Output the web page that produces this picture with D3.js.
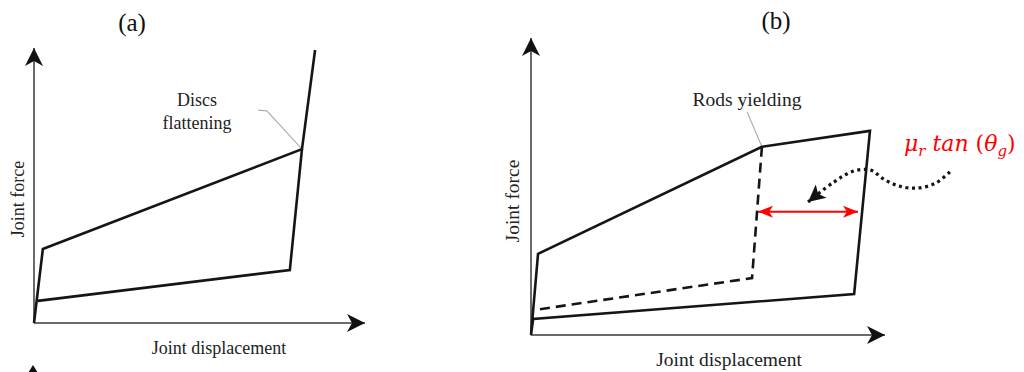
<!DOCTYPE html>
<html>
<head>
<meta charset="utf-8">
<script src="https://cdn.jsdelivr.net/npm/d3@7"></script>
<style>
  html, body { margin: 0; padding: 0; background: #fff; }
  svg { display: block; }
</style>
</head>
<body>
<script>
// ---- Panel (a): joint force vs. displacement with disc flattening ----
const aLoading   = [[0, 0], [0.27, 2.71], [8.17, 6.37], [8.57, 10]];
const aUnloading = [[8.17, 6.37], [7.80, 1.94], [0.12, 0.81]];
const aLeader    = [[6.83, 7.80], [7.10, 7.77], [8.17, 6.37]];
const aNoteLines = ["Discs", "flattening"];

// ---- Panel (b): joint force vs. displacement with rods yielding ----
const bEnvelope  = [[0, 0], [0.2, 2.75], [6.56, 6.38], [9.63, 6.92], [9.18, 1.39], [0.06, 0.54]];
const bDashed    = [[6.56, 6.38], [6.28, 1.93], [0.11, 0.85]];
const bLeader    = [[6.14, 7.56], [6.56, 6.38]];
const bGap       = [[6.45, 4.18], [9.29, 4.18]];
const bWavy      = [[11.90, 5.53], [11.50, 5.15], [10.97, 4.98], [10.45, 5.05], [10.00, 5.30],
                    [9.65, 5.59], [9.15, 5.55], [8.60, 5.18], [7.87, 4.51]];
const bNote      = "Rods yielding";

const titles     = ["(a)", "(b)"];
const xLabel     = "Joint displacement";
const yLabel     = "Joint force";

const W = 1024, H = 372;
const svg = d3.select("body").append("svg").attr("width", W).attr("height", H);
svg.append("rect").attr("width", W).attr("height", H).attr("fill", "#fff");

const defs = svg.append("defs");
function marker(id, color, len, half, notch) {
  defs.append("marker")
    .attr("id", id).attr("markerUnits", "userSpaceOnUse")
    .attr("viewBox", `${-len - 1} ${-half - 1} ${len + 2} ${2 * half + 2}`)
    .attr("refX", 0).attr("refY", 0)
    .attr("markerWidth", len + 2).attr("markerHeight", 2 * half + 2)
    .attr("orient", "auto-start-reverse")
    .append("path")
    .attr("d", `M0,0 L${-len},${-half} L${-len + notch},0 L${-len},${half} Z`)
    .attr("fill", color);
}
marker("axisHead", "#111", 18, 9, 5);
marker("redHead", "#ff0000", 15, 6, 4);
marker("dotHead", "#111", 17, 8.5, 4);

const serif = "'Liberation Serif', 'Times New Roman', serif";

function panel(opt) {
  const x = d3.scaleLinear().domain([0, 10]).range(opt.xr);
  const y = d3.scaleLinear().domain([0, 10]).range(opt.yr);
  const line = d3.line().x(d => x(d[0])).y(d => y(d[1]));
  const g = svg.append("g");

  // axes with arrow heads
  g.append("line")
    .attr("x1", x(0)).attr("y1", y(0)).attr("x2", x(0)).attr("y2", opt.yTip)
    .attr("stroke", "#6a6a6a").attr("stroke-width", 2)
    .attr("marker-end", "url(#axisHead)");
  g.append("line")
    .attr("x1", x(0)).attr("y1", y(0)).attr("x2", opt.xTip).attr("y2", y(0))
    .attr("stroke", "#6a6a6a").attr("stroke-width", 2)
    .attr("marker-end", "url(#axisHead)");

  // axis titles
  g.append("text")
    .attr("x", opt.xLabelPos[0]).attr("y", opt.xLabelPos[1])
    .attr("text-anchor", "middle")
    .attr("font-family", serif).attr("font-size", opt.fs).attr("fill", "#222")
    .text(xLabel);
  g.append("text")
    .attr("transform", `translate(${opt.yLabelPos[0]},${opt.yLabelPos[1]}) rotate(-90)`)
    .attr("text-anchor", "middle")
    .attr("font-family", serif).attr("font-size", opt.fs).attr("fill", "#222")
    .text(yLabel);

  // panel title
  g.append("text")
    .attr("x", opt.titlePos[0]).attr("y", opt.titlePos[1])
    .attr("text-anchor", "middle")
    .attr("font-family", serif).attr("font-size", 25).attr("fill", "#111")
    .text(opt.title);

  return { x, y, line, g };
}

// ---------- Panel (a) ----------
const A = panel({
  xr: [34, 362], yr: [323, 50], yTip: 48, xTip: 365,
  fs: 18, xLabelPos: [219, 354], yLabelPos: [24, 199],
  titlePos: [132, 31], title: titles[0]
});
A.g.append("path").attr("d", A.line(aLeader))
  .attr("fill", "none").attr("stroke", "#b0b0b0").attr("stroke-width", 1.2);
A.g.append("path").attr("d", A.line(aLoading))
  .attr("fill", "none").attr("stroke", "#151515").attr("stroke-width", 2.6)
  .attr("stroke-linejoin", "miter");
A.g.append("path").attr("d", A.line(aUnloading))
  .attr("fill", "none").attr("stroke", "#151515").attr("stroke-width", 2.6);
A.g.selectAll("text.note").data(aNoteLines).join("text")
  .attr("class", "note")
  .attr("x", 197).attr("y", (d, i) => 106 + i * 23)
  .attr("text-anchor", "middle")
  .attr("font-family", serif).attr("font-size", 18).attr("fill", "#222")
  .text(d => d);

// small arrow tip of the next figure peeking in at the bottom edge
svg.append("path").attr("d", "M33,365 L28,373 L38,373 Z").attr("fill", "#111");

// ---------- Panel (b) ----------
const B = panel({
  xr: [531, 883], yr: [335, 40], yTip: 38, xTip: 885,
  fs: 19.5, xLabelPos: [729, 366], yLabelPos: [519, 201],
  titlePos: [776, 29], title: titles[1]
});
B.g.append("path").attr("d", B.line(bLeader))
  .attr("fill", "none").attr("stroke", "#b0b0b0").attr("stroke-width", 1.2);
B.g.append("path").attr("d", B.line(bDashed))
  .attr("fill", "none").attr("stroke", "#151515").attr("stroke-width", 2.6)
  .attr("stroke-dasharray", "10 6");
B.g.append("path").attr("d", B.line(bEnvelope) + "Z")
  .attr("fill", "none").attr("stroke", "#151515").attr("stroke-width", 2.6);
B.g.append("text")
  .attr("x", 747).attr("y", 106)
  .attr("text-anchor", "middle")
  .attr("font-family", serif).attr("font-size", 19.5).attr("fill", "#222")
  .text(bNote);

// red double-headed arrow across the sliding gap
B.g.append("path").attr("d", B.line(bGap))
  .attr("fill", "none").attr("stroke", "#ff0000").attr("stroke-width", 2)
  .attr("marker-start", "url(#redHead)").attr("marker-end", "url(#redHead)");

// dotted wavy pointer from the label
const wavy = d3.line().curve(d3.curveCatmullRom.alpha(0.5))
  .x(d => B.x(d[0])).y(d => B.y(d[1]));
B.g.append("path").attr("d", wavy(bWavy))
  .attr("fill", "none").attr("stroke", "#151515").attr("stroke-width", 3.2)
  .attr("stroke-dasharray", "3 3.6")
  .attr("marker-end", "url(#dotHead)");

// red label  μr tan (θg)
const lbl = B.g.append("text")
  .attr("x", 904).attr("y", 151)
  .attr("font-family", "'DejaVu Serif', serif").attr("font-style", "italic")
  .attr("font-size", 22).attr("fill", "#ff0000");
lbl.append("tspan").text("μ");
lbl.append("tspan").attr("font-size", 15).attr("dy", 5).text("r");
lbl.append("tspan").attr("dy", -5).text(" tan ");
lbl.append("tspan").attr("font-style", "normal").text("(");
lbl.append("tspan").text("θ");
lbl.append("tspan").attr("font-size", 15).attr("dy", 5).text("g");
lbl.append("tspan").attr("dy", -5).attr("font-style", "normal").text(")");
</script>
</body>
</html>
